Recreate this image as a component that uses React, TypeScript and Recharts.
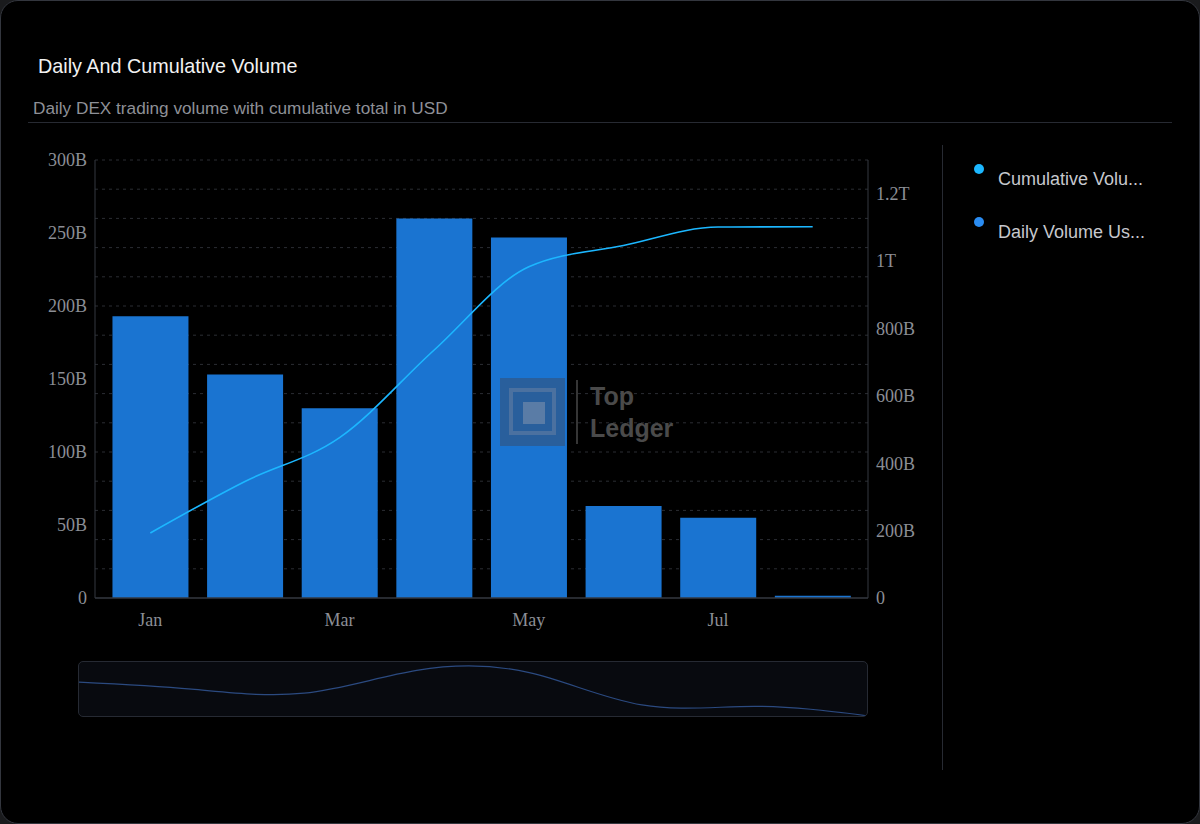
import {
  ComposedChart,
  Bar,
  Line,
  LineChart,
  XAxis,
  YAxis,
  CartesianGrid,
  ReferenceLine,
} from "recharts";

// monthly values, in billions of USD
const MONTHS = ["Jan", "Feb", "Mar", "Apr", "May", "Jun", "Jul", "Aug"];
const DAILY_VOLUME_B = [193, 153, 130, 260, 247, 63, 55, 1.5];
const CUMULATIVE_VOLUME_B = [193, 346, 476, 736, 983, 1046, 1101, 1102];

const LEFT_TICKS = [0, 50, 100, 150, 200, 250, 300];
const RIGHT_TICKS = [0, 200, 400, 600, 800, 1000, 1200];
const GRID_VALUES = [20, 40, 60, 80, 100, 120, 140, 160, 180, 200, 220, 240, 260, 280, 300];

const SERIES_NAMES = ["Cumulative Volume Usd", "Daily Volume Usd"];
const SERIES_COLORS = ["#1cb7ff", "#2a8cf2"];

const chartData = MONTHS.map((month, i) => ({
  month,
  daily: DAILY_VOLUME_B[i],
  cumulative: CUMULATIVE_VOLUME_B[i],
}));

const SANS = '"Liberation Sans", Arial, Helvetica, sans-serif';
const SERIF = '"Liberation Serif", "Times New Roman", serif';
const AXIS_LINE = "#343841";
const TICK_STYLE = { fill: "#8b8e95", fontSize: 18, fontFamily: SERIF };

const fmtLeft = (v: number) => (v === 0 ? "0" : `${v}B`);
const fmtRight = (v: number) => {
  if (v === 0) return "0";
  if (v >= 1000) return `${v / 1000}T`;
  return `${v}B`;
};

function truncate(s: string, n: number) {
  return s.length > n ? s.slice(0, n) + "..." : s;
}

function Watermark() {
  return (
    <div
      style={{
        position: "absolute",
        left: 500,
        top: 378,
        width: 190,
        height: 68,
        pointerEvents: "none",
      }}
    >
      <div
        style={{
          position: "absolute",
          left: 0,
          top: 0,
          width: 65,
          height: 68,
          background: "rgba(60,70,90,0.45)",
        }}
      >
        <div
          style={{
            position: "absolute",
            left: 9,
            top: 10,
            width: 39,
            height: 39,
            border: "4px solid rgba(140,150,170,0.35)",
          }}
        />
        <div
          style={{
            position: "absolute",
            left: 23,
            top: 24,
            width: 22,
            height: 22,
            background: "rgba(150,160,180,0.45)",
          }}
        />
      </div>
      <div
        style={{
          position: "absolute",
          left: 76,
          top: 2,
          width: 2,
          height: 64,
          background: "rgba(90,90,90,0.6)",
        }}
      />
      <div
        style={{
          position: "absolute",
          left: 90,
          top: 2,
          fontFamily: SANS,
          fontWeight: 700,
          fontSize: 25,
          lineHeight: "32px",
          color: "#4a4a4a",
        }}
      >
        Top
        <br />
        Ledger
      </div>
    </div>
  );
}

export default function App() {
  return (
    <div
      style={{
        position: "fixed",
        left: 0,
        top: 0,
        width: 1200,
        height: 824,
        background: "#1a1b1d",
        overflow: "hidden",
      }}
    >
      <div
        style={{
          position: "absolute",
          left: 0,
          top: 0,
          width: 1198,
          height: 822,
          background: "#000",
          border: "1px solid #33363e",
          borderRadius: 18,
        }}
      />
      <div
        style={{
          position: "absolute",
          left: 38,
          top: 55,
          fontFamily: SANS,
          fontSize: 19.8,
          color: "#f2f2f2",
        }}
      >
        Daily And Cumulative Volume
      </div>
      <div
        style={{
          position: "absolute",
          left: 33,
          top: 98,
          fontFamily: SANS,
          fontSize: 17.2,
          color: "#8e9097",
        }}
      >
        Daily DEX trading volume with cumulative total in USD
      </div>
      <div
        style={{
          position: "absolute",
          left: 28,
          top: 122,
          width: 1144,
          height: 1,
          background: "#272a32",
        }}
      />
      <div
        style={{
          position: "absolute",
          left: 942,
          top: 145,
          width: 1,
          height: 625,
          background: "#272a32",
        }}
      />

      {/* legend */}
      {SERIES_NAMES.map((name, i) => (
        <div
          key={name}
          style={{
            position: "absolute",
            left: 974,
            top: 164 + i * 53,
            display: "flex",
            alignItems: "flex-start",
            fontFamily: SANS,
            fontSize: 18,
            color: "#c6c8cd",
          }}
        >
          <span
            style={{
              width: 10,
              height: 10,
              borderRadius: 5,
              background: SERIES_COLORS[i],
              marginRight: 14,
            }}
          />
          <span style={{ marginTop: 5 }}>{truncate(name, 15)}</span>
        </div>
      ))}

      <div style={{ position: "absolute", left: 0, top: 130 }}>
        <ComposedChart
          width={940}
          height={520}
          data={chartData}
          margin={{ top: 30, right: 12, bottom: 22, left: 35 }}
          barCategoryGap="10%"
        >
          <CartesianGrid
            yAxisId="left"
            vertical={false}
            horizontalValues={GRID_VALUES}
            syncWithTicks={false}
            stroke="#2b2d33"
            strokeDasharray="3 4"
          />
          <XAxis
            dataKey="month"
            interval={1}
            padding={{ left: 8, right: 8 }}
            height={30}
            tickLine={false}
            tickMargin={9}
            axisLine={{ stroke: AXIS_LINE }}
            tick={TICK_STYLE}
          />
          <YAxis
            yAxisId="left"
            orientation="left"
            width={60}
            domain={[0, 300]}
            ticks={LEFT_TICKS}
            tickFormatter={fmtLeft}
            tickLine={false}
            axisLine={{ stroke: AXIS_LINE }}
            tick={TICK_STYLE}
          />
          <YAxis
            yAxisId="right"
            orientation="right"
            width={60}
            domain={[0, 1300]}
            ticks={RIGHT_TICKS}
            tickFormatter={fmtRight}
            tickLine={false}
            axisLine={{ stroke: AXIS_LINE }}
            tick={{ ...TICK_STYLE, textAnchor: "start" }}
          />
          <ReferenceLine yAxisId="left" y={0} stroke={AXIS_LINE} />
          <Bar
            yAxisId="left"
            dataKey="daily"
            name={SERIES_NAMES[1]}
            fill="#1a74d1"
            isAnimationActive={false}
          />
          <Line
            yAxisId="right"
            dataKey="cumulative"
            name={SERIES_NAMES[0]}
            type="monotone"
            stroke={SERIES_COLORS[0]}
            strokeWidth={1.6}
            dot={false}
            isAnimationActive={false}
          />
        </ComposedChart>
      </div>

      <Watermark />

      {/* overview strip */}
      <div
        style={{
          position: "absolute",
          left: 78,
          top: 661,
          width: 788,
          height: 54,
          background: "#080a0f",
          border: "1px solid #262a33",
          borderRadius: 5,
          overflow: "hidden",
        }}
      >
        <LineChart
          width={788}
          height={54}
          data={chartData}
          margin={{ top: 4, right: 0, bottom: 0, left: 0 }}
        >
          <XAxis dataKey="month" hide />
          <YAxis hide domain={[0, 285]} />
          <Line
            dataKey="daily"
            type="natural"
            stroke="#2b4a80"
            strokeWidth={1.2}
            dot={false}
            isAnimationActive={false}
          />
        </LineChart>
      </div>
    </div>
  );
}
